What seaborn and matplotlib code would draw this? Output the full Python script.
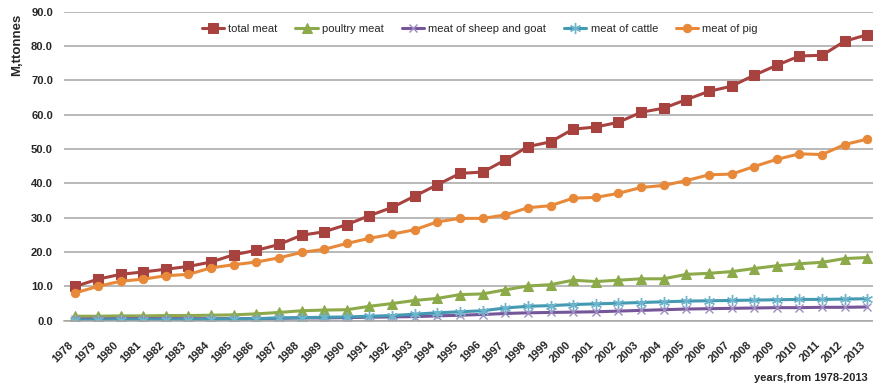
import matplotlib
matplotlib.use("Agg")
import matplotlib.pyplot as plt
import matplotlib.transforms as mtransforms
import seaborn as sns
import pandas as pd
from matplotlib.ticker import FormatStrFormatter

years = [1978, 1979, 1980, 1981, 1982, 1983, 1984, 1985, 1986, 1987,
         1988, 1989, 1990, 1991, 1992, 1993, 1994, 1995, 1996, 1997,
         1998, 1999, 2000, 2001, 2002, 2003, 2004, 2005, 2006, 2007,
         2008, 2009, 2010, 2011, 2012, 2013]

total_meat = [10.0, 12.1, 13.5, 14.2, 15.0, 15.8, 17.1, 19.2, 20.5, 22.2,
              24.9, 25.9, 28.0, 30.6, 33.0, 36.3, 39.6, 42.9, 43.3, 46.8,
              50.7, 52.1, 55.8, 56.4, 57.8, 60.7, 61.9, 64.4, 66.8, 68.3,
              71.5, 74.4, 77.1, 77.3, 81.4, 83.3]
poultry_meat = [1.3, 1.3, 1.4, 1.4, 1.5, 1.5, 1.6, 1.7, 2.0, 2.4,
                2.9, 3.1, 3.2, 4.2, 5.0, 5.9, 6.5, 7.6, 7.8, 9.0,
                10.1, 10.5, 11.8, 11.4, 11.8, 12.2, 12.2, 13.5, 13.8, 14.3,
                15.2, 16.0, 16.6, 17.0, 18.1, 18.4]
sheep_goat_meat = [0.5, 0.5, 0.6, 0.6, 0.6, 0.6, 0.6, 0.6, 0.6, 0.7,
                   0.8, 0.8, 0.9, 1.0, 1.1, 1.2, 1.4, 1.6, 1.8, 2.1,
                   2.3, 2.4, 2.5, 2.6, 2.8, 3.0, 3.2, 3.4, 3.5, 3.6,
                   3.7, 3.8, 3.8, 3.9, 3.9, 4.0]
cattle_meat = [0.2, 0.2, 0.3, 0.3, 0.3, 0.3, 0.4, 0.5, 0.6, 0.8,
               0.9, 1.0, 1.1, 1.3, 1.5, 1.9, 2.3, 2.6, 2.9, 3.7,
               4.2, 4.4, 4.7, 4.9, 5.1, 5.3, 5.5, 5.7, 5.8, 5.9,
               6.0, 6.1, 6.2, 6.2, 6.3, 6.4]
pig_meat = [8.1, 10.0, 11.5, 12.1, 13.1, 13.5, 15.4, 16.3, 17.1, 18.3,
            19.9, 20.8, 22.5, 24.0, 25.2, 26.5, 28.8, 29.8, 29.8, 30.8,
            32.9, 33.5, 35.7, 35.9, 37.1, 38.8, 39.4, 40.8, 42.5, 42.7,
            44.9, 47.0, 48.6, 48.4, 51.3, 52.9]

y_ticks = [0, 10, 20, 30, 40, 50, 60, 70, 80, 90]

sns.set_style("white")
plt.rcParams["font.family"] = ["Liberation Sans", "DejaVu Sans"]

fig = plt.figure(figsize=(8.73, 3.87), dpi=100)
ax = fig.add_axes([64 / 873, 1 - 320.7 / 387, (873 - 64) / 873, (320.7 - 11.7) / 387])

series = [
    ("total meat", total_meat, dict(color="#A8423F", marker="s", markersize=6.5,
                                    markeredgecolor="#A8423F")),
    ("poultry meat", poultry_meat, dict(color="#8CAA4A", marker="^", markersize=6.5,
                                        markeredgecolor="#8CAA4A")),
    ("meat of sheep and goat", sheep_goat_meat, dict(color="#75569A", marker="x", markersize=6,
                                                     markeredgewidth=1.0,
                                                     markeredgecolor="#9E8CC0")),
    ("meat of cattle", cattle_meat, dict(color="#4499B3", marker=(6, 2, 0), markersize=8,
                                        markeredgewidth=1.0,
                                        markeredgecolor="#6FB6CC")),
    ("meat of pig", pig_meat, dict(color="#E8893A", marker="o", markersize=6,
                                   markeredgecolor="#E8893A")),
]

for name, values, style in series:
    df = pd.DataFrame({"year": years, "value": values})
    sns.lineplot(data=df, x="year", y="value", ax=ax, label=name,
                 linewidth=2.2, **style)

ax.set_xlim(1977.5, 2013.25)
ax.set_ylim(0, 90)
ax.set_yticks(y_ticks)
ax.yaxis.set_major_formatter(FormatStrFormatter("%.1f"))
ax.set_xticks(years)
ax.set_xticklabels([str(y) for y in years], rotation=45, ha="right", va="top",
                   fontweight="bold", fontsize=8)
shift = mtransforms.ScaledTranslation(4 / 100, 0, fig.dpi_scale_trans)
for lbl in ax.get_xticklabels():
    lbl.set_transform(lbl.get_transform() + shift)
for lbl in ax.get_yticklabels():
    lbl.set_fontweight("bold")
    lbl.set_fontsize(8)
ax.tick_params(axis="x", length=0, pad=13.5)
ax.tick_params(axis="y", length=0, pad=8)

ax.grid(axis="y", color="#A6A6A6", linewidth=1.1)
ax.grid(axis="x", visible=False)
for side in ["left", "right", "top"]:
    ax.spines[side].set_visible(False)
ax.spines["bottom"].set_color("#A6A6A6")
ax.spines["bottom"].set_linewidth(1.1)

ax.set_xlabel("")
ax.set_ylabel("")

ax.legend(loc="center", bbox_to_anchor=(0.514, 0.944), ncol=5, frameon=False,
          fontsize=8, handlelength=2.0, handletextpad=0.4, columnspacing=1.6)

fig.text(17 / 873, 1 - 45 / 387, "M,ttonnes", rotation=90, ha="center", va="center",
         fontsize=9.5, fontweight="bold")
fig.text(868 / 873, 1 - 378 / 387, "years,from 1978-2013", ha="right", va="center",
         fontsize=8, fontweight="bold")

fig.savefig("out.png", dpi=100)
